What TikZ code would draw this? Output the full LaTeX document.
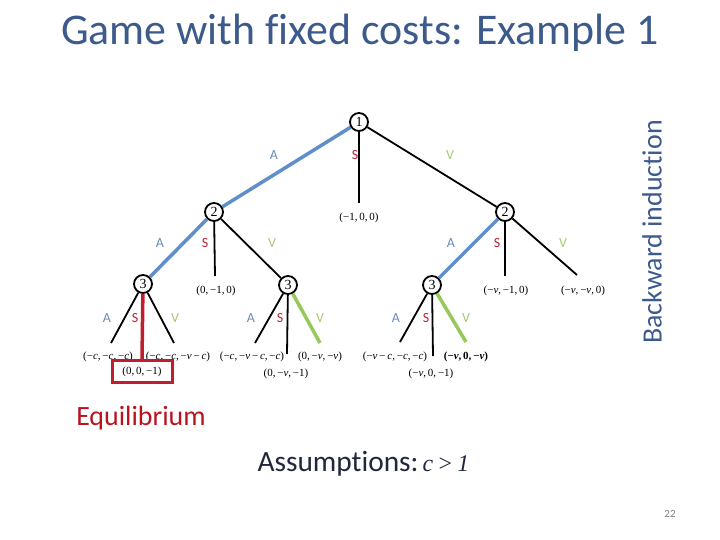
\documentclass[tikz,border=0pt]{standalone}
\usepackage{fontspec}
\setmainfont{Liberation Serif}
\newfontfamily\calfont[Ligatures=NoCommon]{Carlito}
\newcommand{\myc}{\textit{c}}
\newcommand{\myv}{\textit{v}}
\definecolor{titlecol}{RGB}{60,90,140}
\definecolor{eblue}{RGB}{95,142,202}
\definecolor{lblue}{RGB}{105,140,180}
\definecolor{lred}{RGB}{190,30,45}
\definecolor{lgreen}{RGB}{165,200,115}
\definecolor{egreen}{RGB}{150,200,90}
\definecolor{eqred}{RGB}{185,20,30}
\definecolor{navy}{RGB}{30,40,60}
\tikzset{
  dec/.style={circle,draw=black,line width=1.8bp,fill=white,minimum size=18bp,inner sep=0pt,font=\fontsize{14}{14}\selectfont},
  blk/.style={line width=1.8bp,black},
  bluee/.style={line width=3.5bp,eblue},
  rede/.style={line width=3.5bp,lred},
  greene/.style={line width=3.5bp,egreen},
  la/.style={text=lblue,font=\calfont\fontsize{14}{14}\selectfont,inner sep=0pt},
  ls/.style={text=lred,font=\calfont\fontsize{14}{14}\selectfont,inner sep=0pt},
  lv/.style={text=lgreen,font=\calfont\fontsize{14}{14}\selectfont,inner sep=0pt},
  pay/.style={font=\fontsize{11}{11}\selectfont,inner sep=1pt}
}
\begin{document}
\begin{tikzpicture}[x=1bp,y=-1bp]
\useasboundingbox (0,0) rectangle (720,540);
% title
\node[text=titlecol,font=\calfont\fontsize{44}{44}\selectfont] (title) at (360,33) {Game with fixed costs: Example 1};
\node[text=titlecol,font=\calfont\fontsize{28}{28}\selectfont,rotate=90] (bi) at (652,232) {Backward induction};
\node[text=eqred,font=\calfont\fontsize{28}{28}\selectfont] (eq) at (141,418) {Equilibrium};
\node[text=navy,font=\calfont\fontsize{29.5}{29.5}\selectfont,anchor=west] (as) at (254,464) {Assumptions:\hspace{4pt}{\rmfamily\fontsize{24}{24}\selectfont\itshape c\hspace{4pt}>\hspace{4pt}1}};
\node[text=gray,font=\calfont\fontsize{11}{11}\selectfont] (pg) at (670,514) {22};

% decision nodes
\node[dec] (n1) at (359,122) {1};
\node[dec] (n2l) at (214,212) {2};
\node[dec] (n2r) at (505,212) {2};
\node[dec] (n3l) at (143,284) {3};
\node[dec] (n3m) at (288,285) {3};
\node[dec] (n3r) at (432,285) {3};

% terminal coordinates
\coordinate (t1s) at (359,203);
\coordinate (t2ls) at (215,276);
\coordinate (t2rs) at (505,276);
\coordinate (t2rv) at (577,275);
\coordinate (t3la) at (111,343);
\coordinate (t3ls) at (142,360);
\coordinate (t3lv) at (174,343);
\coordinate (t3ma) at (255,343);
\coordinate (t3ms) at (287,354);
\coordinate (t3mv) at (320,343);
\coordinate (t3ra) at (400,342);
\coordinate (t3rs) at (433,356);
\coordinate (t3rv) at (466,342);

% edges
\draw[bluee] (n1) -- (n2l);
\draw[blk] (n1) -- (t1s);
\draw[blk] (n1) -- (n2r);
\draw[bluee] (n2l) -- (n3l);
\draw[blk] (n2l) -- (t2ls);
\draw[blk] (n2l) -- (n3m);
\draw[bluee] (n2r) -- (n3r);
\draw[blk] (n2r) -- (t2rs);
\draw[blk] (n2r) -- (t2rv);
\draw[blk] (n3l) -- (t3la);
\draw[rede] (n3l) -- (t3ls);
\draw[blk] (n3l) -- (t3lv);
\draw[blk] (n3m) -- (t3ma);
\draw[blk] (n3m) -- (t3ms);
\draw[greene] (n3m) -- (t3mv);
\draw[blk] (n3r) -- (t3ra);
\draw[blk] (n3r) -- (t3rs);
\draw[greene] (n3r) -- (t3rv);

% action labels
\node[la] (a1) at (274,155) {A};
\node[ls] (s1) at (355,155) {S};
\node[lv] (v1) at (450,155) {V};
\node[la] (a2l) at (160,243) {A};
\node[ls] (s2l) at (205,243) {S};
\node[lv] (v2l) at (272,243) {V};
\node[la] (a2r) at (451,243) {A};
\node[ls] (s2r) at (497,243) {S};
\node[lv] (v2r) at (563,243) {V};
\node[la] (a3l) at (107,318) {A};
\node[ls] (s3l) at (135,318) {S};
\node[lv] (v3l) at (175,318) {V};
\node[la] (a3m) at (251,318) {A};
\node[ls] (s3m) at (280,318) {S};
\node[lv] (v3m) at (320,318) {V};
\node[la] (a3r) at (396,318) {A};
\node[ls] (s3r) at (426,318) {S};
\node[lv] (v3r) at (466,318) {V};

% payoffs
\node[pay] (p1) at (359,218) {(−1,\,0,\,0)};
\node[pay] (p2l) at (216,291) {(0,\,−1,\,0)};
\node[pay] (p2rs) at (506,291) {(−\myv,\,−1,\,0)};
\node[pay] (p2rv) at (583,291) {(−\myv,\,−\myv,\,0)};
\node[pay] (pa) at (108,357) {(−\myc,\,−\myc,\,−\myc)};
\node[pay] (pb) at (178,357) {(−\myc,\,−\myc,\,−\myv\,−\,\myc)};
\node[pay] (pc) at (252,357) {(−\myc,\,−\myv\,−\,\myc,\,−\myc)};
\node[pay] (pd) at (320,357) {(0,\,−\myv,\,−\myv)};
\node[pay] (pe) at (395,357) {(−\myv\,−\,\myc,\,−\myc,\,−\myc)};
\node[pay,font=\bfseries\fontsize{11}{11}\selectfont] (pf) at (466,357) {(−\myv,\,0,\,−\myv)};
\node[pay] (pg2) at (142,372) {(0,\,0,\,−1)};
\node[draw=lred,line width=3bp,minimum width=60bp,minimum height=22bp,inner sep=0pt] (box) at (142,371) {};
\node[pay] (ph) at (286,374) {(0,\,−\myv,\,−1)};
\node[pay] (pi) at (431,374) {(−\myv,\,0,\,−1)};
\end{tikzpicture}
\end{document}
